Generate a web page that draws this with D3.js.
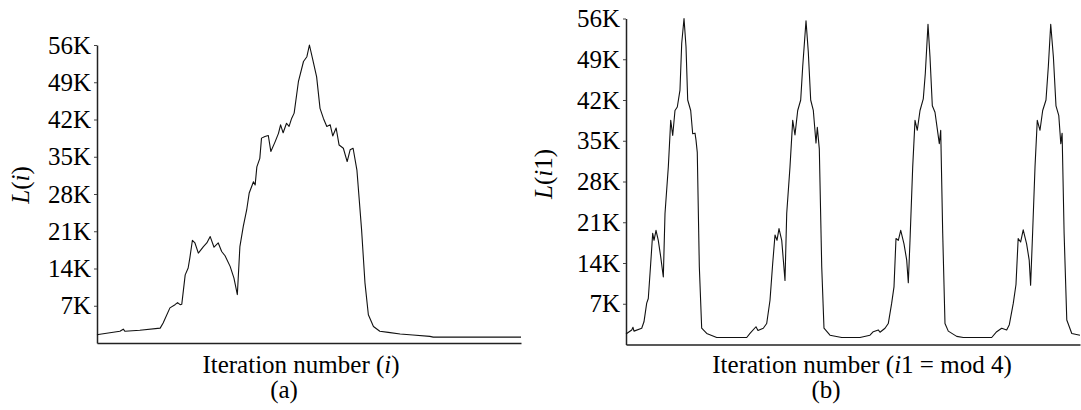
<!DOCTYPE html>
<html>
<head>
<meta charset="utf-8">
<script src="https://cdn.jsdelivr.net/npm/d3@7"></script>
<style>
  body { margin: 0; background: #fff; }
  text { font-family: "Liberation Serif", "Times New Roman", serif; fill: #000; }
</style>
</head>
<body>
<svg id="chart" width="1081" height="410"></svg>
<script>
// load values are in thousands
let yTicks = [7, 14, 21, 28, 35, 42, 49, 56];

// (a) plain iteration number
let leftIter = [0, 3, 54, 62, 66, 101, 149, 156, 172, 184, 190, 196, 200, 208, 215, 219, 225, 231, 239,
    251, 259, 267, 276, 286, 294, 302, 314, 323, 331, 337, 345, 353, 359, 369, 373, 377, 384, 388,
    396, 404, 410, 420, 428, 433, 439, 447, 453, 459, 465, 475, 487, 495, 501, 509, 518, 526, 534,
    542, 550, 556, 564, 571, 581, 590, 597, 604, 613, 624, 632, 640, 652, 667, 687, 715, 745, 785,
    793, 1000];
let leftLoad = [1.5, 1.6, 2.2, 2.6, 2.2, 2.4, 2.8, 3.75, 6.6, 7.2, 7.6, 7.2, 7.3, 12.8, 14.1, 16, 19.3,
    18.8, 16.9, 18.1, 18.8, 20, 18, 18.8, 17.2, 16.4, 14.4, 12.2, 9.1, 18.1, 21.9, 25, 28.2, 30.3,
    29.7, 33.1, 34.7, 38.5, 38.8, 39, 36, 37.8, 39.4, 41, 39.5, 41.3, 40.7, 42.2, 43.2, 49.1, 52.9,
    53.8, 56, 53.2, 50, 44.1, 42.2, 40.7, 41, 38.9, 40.4, 37.2, 36.6, 34.1, 36.3, 36.6, 32.5, 21.3,
    11.3, 5.3, 3.1, 2.2, 2.0, 1.7, 1.5, 1.24, 1.1, 1.1];

// (b) iteration number i1 = mod 4
let rightIter = [0, 12.6, 15.4, 17.6, 34.6, 39.6, 45.6, 49.1, 54.4, 58.8, 61.7, 66.1, 71.1, 76.4, 82.2,
    85.9, 93.2, 98.5, 102.9, 107.9, 113, 118.9, 122.7, 127.8, 132.2, 135.9, 142.5, 146.9, 152, 154.2,
    157, 161.5, 166.7, 177.8, 199.8, 265.9, 273.1, 286.3, 290.7, 302.4,
    309.9, 317.2, 323.1, 328.2, 332.6, 337, 343, 350.2, 354, 361.2, 367.2, 372.2, 378.2, 384.8,
    389.2, 396.5, 401.5, 406.8, 412.6, 418.5, 421.4, 425.8, 431.1, 436.1, 449.3, 475.1,
    515.4, 537.4, 544.7, 555.7, 559.5, 570.5, 577.7, 585.2, 590.3, 594.7, 599.8, 605.1, 612.3, 618.3,
    621.8, 625.6, 631.5, 636.6, 641.6, 647.6, 654.8, 659.3, 665.2, 669.6, 674.7, 680.6, 685.7, 690.1,
    693.2, 697.6, 702.6, 709.9, 728.4, 743, 805.5,
    816.5, 827.5, 838.5, 844.3, 853.1, 859, 863.8, 869.2, 874.9, 882.4, 888.1, 891.2, 895.6, 900.9,
    905.9, 911.9, 917.8, 925.1, 930.2, 935.5, 941.4, 947.1, 953.3, 957.7, 960.6, 965, 970.9, 981.9, 1000];
let rightLoad = [1.8, 2.5, 2.95, 2.3, 2.8, 3.9, 7.1, 7.9, 13.9, 19.1, 17.9, 19.6, 17.9, 15.1, 11.6,
    22.5, 30.5, 38.5, 35.9, 40.2, 40.8, 43.7, 51.7, 56, 51.1, 42, 40.2, 36.2, 36.3, 35.1,
    33, 13.4, 2.8, 1.9, 1.2, 1.2, 1.9, 3.05, 2.4, 2.8,
    3.6, 7.6, 13.9, 18.8, 17.9, 19.9, 17.9, 11.0, 22.5, 30.5, 38.5, 36, 40.2, 42,
    47.7, 55.6, 50.3, 42, 40.2, 34.6, 37.3, 33.6, 13.4, 2.8, 1.6, 1.2,
    1.2, 1.6, 2.2, 2.5, 2.1, 2.8, 3.6, 7.1, 9.9, 18.2, 17.9, 19.6, 17.3, 14.5,
    10.6, 17.9, 30.5, 38.5, 36.8, 40.2, 42.2, 46.6, 55, 49.4, 41, 39.9, 37, 34.5,
    36.8, 19.1, 3.6, 2.3, 1.4, 1.2, 1.2,
    2.2, 2.8, 2.5, 3.4, 7.1, 10.3, 18.2, 17.6, 19.7, 17.3, 14.5, 10.2, 19.1, 30.5,
    38.5, 36.8, 40.2, 42, 47.7, 55, 49.4, 41, 39.3, 34.5, 36.3, 19.1, 4.2, 1.9, 1.6];

let svg = d3.select("#chart");

function buildPanel(opts) {
    let x = d3.scaleLinear().domain([0, 1000]).range([opts.left, opts.right]),
        y = d3.scaleLinear().domain([0, 56]).range([opts.bottom, opts.top]);

    let data = opts.iter.map(function(d, i) { return [d, opts.load[i]]; });

    // y axis
    let ya = svg.append("g")
        .attr("transform", "translate(" + opts.left + ",0)")
        .call(d3.axisLeft(y).tickValues(yTicks).tickSize(3).tickSizeOuter(0).tickPadding(3)
            .tickFormat(function(d) { return d + "K"; }));
    ya.select(".domain").attr("stroke", "#222").attr("stroke-width", 1.5);
    ya.selectAll(".tick line").attr("stroke", "#444");
    ya.selectAll(".tick text").attr("font-size", "25px").attr("font-family", "Liberation Serif").attr("fill", "#000");

    // x axis, no ticks
    let xa = svg.append("g")
        .attr("transform", "translate(0," + opts.bottom + ")")
        .call(d3.axisBottom(x).tickValues([]).tickSizeOuter(0));
    xa.select(".domain").attr("stroke", "#222").attr("stroke-width", 1.5);

    // the curve
    svg.append("path")
        .datum(data)
        .attr("fill", "none")
        .attr("stroke", "#111")
        .attr("stroke-width", 1.1)
        .attr("stroke-linejoin", "round")
        .attr("d", d3.line()
            .x(function(d) { return x(d[0]); })
            .y(function(d) { return y(d[1]); }));

    // y label
    let yl = svg.append("text")
        .attr("transform", "translate(" + opts.yLabelX + "," + opts.yLabelY + ") rotate(-90)")
        .attr("text-anchor", "middle")
        .attr("font-size", "25px");
    yl.append("tspan").attr("font-style", "italic").text("L");
    yl.append("tspan").text("(");
    yl.append("tspan").attr("font-style", "italic").text("i");
    if (opts.sub) yl.append("tspan").text(opts.sub);
    yl.append("tspan").text(")");

    // x label
    let xl = svg.append("text")
        .attr("x", opts.xLabelX)
        .attr("y", 373)
        .attr("text-anchor", "middle")
        .attr("font-size", "25px");
    xl.append("tspan").text("Iteration number (");
    xl.append("tspan").attr("font-style", "italic").text("i");
    xl.append("tspan").text(opts.xTail);

    svg.append("text")
        .attr("x", opts.capX)
        .attr("y", 398)
        .attr("text-anchor", "middle")
        .attr("font-size", "25px")
        .text(opts.cap);
}

buildPanel({
    left: 97, right: 521, top: 45, bottom: 343,
    iter: leftIter, load: leftLoad,
    yLabelX: 29, yLabelY: 185, sub: "",
    xLabelX: 301, xTail: ")", capX: 284, cap: "(a)"
});

buildPanel({
    left: 626, right: 1080, top: 18.5, bottom: 344.5,
    iter: rightIter, load: rightLoad,
    yLabelX: 552, yLabelY: 174, sub: "1",
    xLabelX: 862, xTail: "1 = mod 4)", capX: 826, cap: "(b)"
});
</script>
</body>
</html>
